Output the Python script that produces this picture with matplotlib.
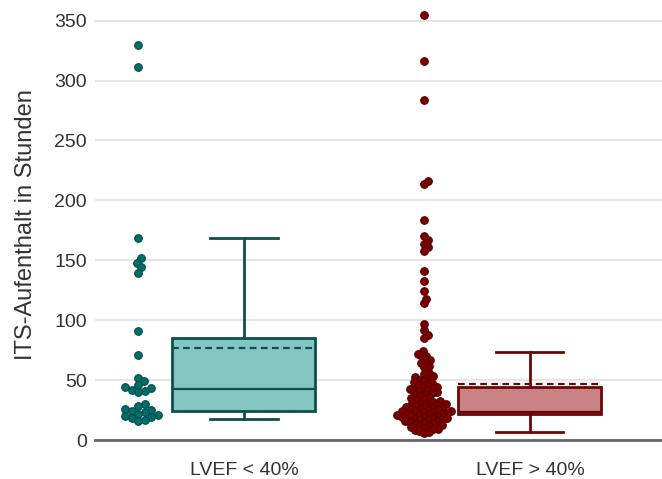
import numpy as np
import matplotlib
matplotlib.use("Agg")
import matplotlib.pyplot as plt

plt.rcParams['font.family'] = ['Liberation Sans', 'DejaVu Sans']

groups = ["LVEF < 40%", "LVEF > 40%"]

# hours on ICU
lvef_low = [330, 311, 169, 152, 148, 144, 139, 91, 71, 52, 49, 46, 44, 43, 42,
            41, 40, 30, 28, 26, 25, 24, 23, 22, 21, 20, 19, 18, 17, 16]
lvef_high = [355, 316, 284, 216, 214, 184, 170, 167, 164, 161, 158, 141, 133,
             124, 118, 114, 97, 92, 88, 85, 74, 72, 70.5, 69, 67, 66, 64, 62, 61,
             56.2, 55.1, 53.4, 52.7, 51.3, 50.2, 49.6, 48.1, 47.5, 46.3, 45.8,
             44.6, 44.0, 43.2, 42.8, 42.1, 41.3, 40.9, 39.7, 39.1, 38.4, 37.2,
             36.8, 35.5, 34.9, 34.2, 33.1, 32.6, 32.0, 31.3, 30.8, 30.4, 29.7,
             29.3, 28.9, 28.1, 27.8, 27.3, 26.6, 26.2, 25.9, 25.4, 24.7, 24.5,
             24.1, 23.6, 23.3, 22.9, 22.4, 22.1, 21.8, 21.2, 20.9, 20.5, 20.1,
             19.7, 19.2, 18.8, 18.5, 18.0, 17.6, 17.1, 16.9, 16.4, 15.8, 15.5,
             15.0, 14.3, 13.9, 13.1, 12.6, 12.0, 11.4, 10.7, 10.1, 9.6, 8.8,
             8.1, 7.4, 6.6, 5.8]

# box statistics as drawn in the reference
q1s = [24.2, 21.7]
medians = [42.6, 23.6]
q3s = [85.4, 44.5]
means = [76.5, 46.5]
whis_lo = [17.3, 6.9]
whis_hi = [168.4, 73.2]

point_colors = ["#006e6b", "#7d0000"]
point_edges = ["#004a48", "#560000"]
box_fills = ["#82c5c2", "#c98384"]
box_edges = ["#0c4f4c", "#6a0808"]

fig = plt.figure(figsize=(6.62, 4.79), dpi=100)
ax = fig.add_axes([0.1435, 0.0814, 0.8565, 0.9005])
ax.set_xlim(-0.521, 1.462)
ax.set_ylim(0, 360)

# box plots
stats = []
for i in range(2):
    stats.append(dict(q1=q1s[i], med=medians[i], q3=q3s[i], mean=means[i],
                      whislo=whis_lo[i], whishi=whis_hi[i], fliers=[]))
for i in range(2):
    ax.bxp([stats[i]], positions=[i], widths=0.5, patch_artist=True,
           showmeans=True, meanline=True, showfliers=False,
           boxprops=dict(facecolor=box_fills[i], edgecolor=box_edges[i], linewidth=2),
           whiskerprops=dict(color=box_edges[i], linewidth=2),
           capprops=dict(color=box_edges[i], linewidth=2),
           medianprops=dict(color=box_edges[i], linewidth=1.6),
           meanprops=dict(color=box_edges[i], linewidth=1.6, linestyle=(0, (3, 2))),
           capwidths=0.235, zorder=3)


def swarm(values, xc, diam):
    # simple beeswarm in pixel space
    pts = ax.transData.transform(np.column_stack([np.full(len(values), xc), values]))
    ys = pts[:, 1]
    order = np.argsort(ys)
    placed = []
    xs = np.zeros(len(values))
    for k in order:
        y = ys[k]
        cands = [0.0]
        for (px, py) in placed:
            dy = abs(py - y)
            if dy < diam:
                dx = np.sqrt(diam ** 2 - dy ** 2)
                cands += [px + dx, px - dx]
        cands.sort(key=abs)
        for c in cands:
            if all((c - px) ** 2 + (y - py) ** 2 >= diam ** 2 - 1e-6 for (px, py) in placed):
                xs[k] = c
                placed.append((c, y))
                break
    disp = np.column_stack([pts[:, 0] + xs, ys])
    return ax.transData.inverted().transform(disp)[:, 0]


for i, vals in enumerate([lvef_low, lvef_high]):
    xx = swarm(vals, i - 0.37, [6.8, 5.0][i])
    ax.scatter(xx, vals, s=30, color=point_colors[i], edgecolors=point_edges[i],
               linewidths=0.8, zorder=4, clip_on=False)

ax.set_yticks(range(0, 351, 50))
ax.set_xticks([0, 1])
ax.set_xticklabels(groups)
ax.tick_params(axis='both', length=0, labelsize=14, labelcolor="#333333")
ax.tick_params(axis='x', pad=16)
ax.tick_params(axis='y', pad=6)
ax.grid(axis='y', color="#e6e6e6", linewidth=1.5, zorder=0)
ax.set_axisbelow(True)
for side in ['top', 'right', 'left']:
    ax.spines[side].set_visible(False)
ax.spines['bottom'].set_color("#666666")
ax.spines['bottom'].set_linewidth(2)
ax.set_ylabel("ITS-Aufenthalt in Stunden", fontsize=17, color="#333333", labelpad=12)

fig.savefig("out.png", dpi=100)
